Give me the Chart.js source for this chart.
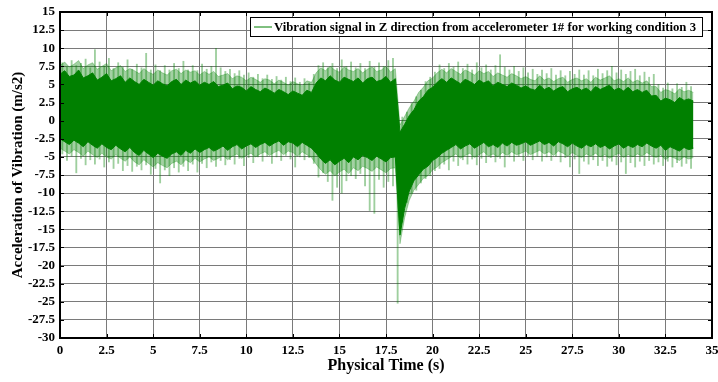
<!DOCTYPE html>
<html lang="en">
<head>
  <meta charset="UTF-8">
  <title>Vibration signal, Z direction</title>
  <script src="https://cdn.jsdelivr.net/npm/chart.js"></script>
  <style>
    html, body { margin: 0; padding: 0; background: #fff; }
    #wrap { width: 718px; height: 382px; }
  </style>
</head>
<body>
  <div id="wrap"><canvas id="chart" width="718" height="382"></canvas></div>
  <script>
    // dense dark band of the signal, read every 0.25 s (upper / lower edge, m/s2)
    const coreHi = [
      6.4, 6.9, 6.1, 6.3, 7.0, 5.9, 6.2, 6.6, 5.6, 6.0, 6.5, 5.5, 5.8, 6.2, 5.3, 5.9,
      5.4, 5.0, 5.7, 5.3, 4.9, 5.5, 5.1, 4.8, 5.4, 5.7, 5.0, 5.6, 5.2, 5.5, 4.9, 5.3,
      5.0, 5.4, 4.7, 4.9, 5.2, 4.4, 4.8, 4.6, 4.1, 4.7, 4.3, 4.0, 4.5, 4.2, 3.8, 4.3,
      4.0, 3.6, 4.1, 3.8, 3.5, 4.2, 3.9,
      5.2, 5.9, 5.5, 6.2, 5.6, 5.3, 6.0, 5.7, 5.4, 5.9, 5.2, 5.8, 6.0, 5.4, 5.6, 6.1, 5.3, 5.8,
      -1.6, -0.5, 0.7, 1.5, 2.7, 3.3, 4.2, 4.6, 5.3, 5.8,
      5.3, 5.9, 5.5, 5.1, 5.7, 5.4, 5.0, 5.6, 5.2, 5.5, 4.8, 5.3, 5.0, 4.7, 5.2, 4.9, 4.5,
      4.8, 4.4, 4.2, 4.9, 4.3, 4.6, 4.1, 4.5, 4.7, 4.0, 4.4, 4.6, 4.2, 4.5, 4.0, 4.7,
      4.3, 4.6, 4.9, 4.2, 4.5, 4.1, 4.6, 4.0, 4.3, 3.9, 4.2, 3.4,
      3.5, 2.7, 3.1, 2.9, 2.5, 3.2, 2.8, 3.0, 2.7
    ];
    const coreLo = [
      -2.5, -2.9, -3.3, -2.7, -3.1, -3.6, -2.9, -3.4, -3.8, -3.2, -3.7, -4.0, -3.4, -3.9, -4.3, -3.7,
      -4.4, -4.8, -4.1, -4.6, -5.1, -4.5, -4.9, -5.2, -4.6, -4.3, -4.8, -4.1, -4.5, -3.9, -4.4, -4.0,
      -3.7, -4.2, -3.9, -3.5, -4.1, -3.6, -3.3, -3.9, -3.5, -3.2, -3.7, -3.3, -3.0, -3.5, -3.1, -2.8,
      -3.4, -2.9, -3.1, -3.6, -3.0, -3.4, -3.8,
      -4.5, -5.3, -5.9, -5.4, -6.1, -5.6, -5.2, -5.8, -5.0, -5.4, -4.8, -5.1, -5.5, -4.9, -5.3, -5.7, -5.1, -5.0,
      -15.8, -12.1, -9.7, -8.3, -7.5, -6.7, -6.3, -5.5, -5.1, -4.5,
      -4.1, -3.7, -3.3, -3.9, -3.5, -3.2, -3.8, -3.4, -3.0, -3.6, -3.3, -3.7, -3.1, -3.5, -3.0, -3.4, -3.2,
      -2.9, -3.4, -3.1, -2.8, -3.3, -3.0, -3.5, -2.9, -3.2, -3.6, -3.1, -3.5, -3.8, -3.3, -3.6, -3.2,
      -3.7, -3.4, -3.9, -3.5, -3.2, -3.8, -3.4, -3.7, -3.3, -3.6, -3.1, -3.5,
      -3.8, -3.4, -4.1, -3.6, -3.9, -4.2, -3.7, -4.0, -3.8
    ];

    // lighter halo around the band, same 0.25 s grid
    const fringeHi = [
      7.6, 8.1, 7.4, 7.8, 8.3, 7.2, 7.7, 8.0, 7.1, 7.5, 7.9, 6.9, 7.3, 7.6, 6.8, 7.2,
      6.9, 6.5, 7.2, 6.7, 6.4, 7.0, 6.6, 6.3, 6.9, 7.1, 6.5, 7.0, 6.7, 6.9, 6.3, 6.8,
      6.4, 6.8, 6.1, 6.3, 6.5, 5.8, 6.2, 6.0, 5.5, 6.0, 5.7, 5.3, 5.8, 5.6, 5.1, 5.6,
      5.3, 4.9, 5.4, 5.1, 4.8, 5.5, 5.3,
      6.6, 7.3, 6.9, 7.5, 7.0, 6.7, 7.4, 7.0, 6.8, 7.2, 6.6, 7.1, 7.4, 6.8, 7.0, 7.5, 6.7, 7.2,
      -0.6, 0.6, 1.8, 2.7, 3.9, 4.6, 5.5, 5.9, 6.6, 7.1,
      6.6, 7.2, 6.8, 6.4, 7.0, 6.7, 6.3, 6.9, 6.5, 6.8, 6.1, 6.6, 6.3, 6.0, 6.5, 6.2, 5.8,
      6.1, 5.7, 5.5, 6.2, 5.6, 5.9, 5.4, 5.8, 6.0, 5.3, 5.7, 5.9, 5.5, 5.8, 5.3, 6.0,
      5.6, 5.9, 6.2, 5.5, 5.8, 5.4, 5.9, 5.3, 5.6, 5.2, 5.5, 4.7,
      4.7, 3.9, 4.3, 4.1, 3.7, 4.4, 4.0, 4.2, 3.9
    ];
    const fringeLo = [
      -3.8, -4.2, -4.6, -4.0, -4.4, -4.9, -4.2, -4.7, -5.1, -4.5, -5.0, -5.3, -4.7, -5.2, -5.6, -5.0,
      -5.7, -6.1, -5.4, -5.9, -6.4, -5.8, -6.2, -6.5, -5.9, -5.6, -6.1, -5.4, -5.8, -5.2, -5.7, -5.3,
      -5.0, -5.5, -5.2, -4.8, -5.4, -4.9, -4.6, -5.2, -4.8, -4.5, -5.0, -4.6, -4.3, -4.8, -4.4, -4.1,
      -4.7, -4.2, -4.4, -4.9, -4.3, -4.7, -5.1,
      -6.0, -6.8, -7.4, -6.9, -7.6, -7.1, -6.7, -7.3, -6.5, -6.9, -6.3, -6.6, -7.0, -6.4, -6.8, -7.2, -6.6, -6.5,
      -17.0, -13.4, -11.0, -9.6, -8.8, -8.0, -7.6, -6.8, -6.4, -5.8,
      -5.4, -5.0, -4.6, -5.2, -4.8, -4.5, -5.1, -4.7, -4.3, -4.9, -4.6, -5.0, -4.4, -4.8, -4.3, -4.7, -4.5,
      -4.2, -4.7, -4.4, -4.1, -4.6, -4.3, -4.8, -4.2, -4.5, -4.9, -4.4, -4.8, -5.1, -4.6, -4.9, -4.5,
      -5.0, -4.7, -5.2, -4.8, -4.5, -5.1, -4.7, -5.0, -4.6, -4.9, -4.4, -4.8,
      -5.1, -4.7, -5.4, -4.9, -5.2, -5.5, -5.0, -5.3, -5.1
    ];

    // single peaks sticking out of the band, read every 0.25 s starting at 0.125 s
    const spikeHi = [
      8.0, 7.4, 8.3, 7.6, 7.9, 8.5, 7.3, 9.8, 8.1, 7.5, 8.6, 7.2, 8.0, 7.4, 8.4, 7.1,
      7.8, 7.3, 9.3, 7.0, 7.7, 6.9, 7.6, 7.0, 7.9, 7.2, 8.2, 7.0, 7.6, 6.9, 7.8, 7.1,
      7.5, 10.0, 7.3, 6.8, 7.1, 6.5, 6.9, 6.3, 6.6, 6.0, 6.4, 5.8, 6.3, 5.7, 6.1, 5.6,
      6.0, 5.4, 5.9, 5.3, 5.8, 5.2, 6.4, 7.6, 8.0, 7.3, 7.9, 7.2, 8.4, 7.5, 8.1, 7.3,
      7.9, 7.2, 8.2, 7.4, 8.0, 7.5, 8.3, 8.6, -1.0, 0.5, 1.2, 2.4, 3.3, 4.2, 5.4, 6.0,
      6.7, 7.7, 7.2, 7.9, 7.4, 8.1, 7.2, 7.8, 7.0, 8.0, 7.3, 7.7, 7.0, 7.6, 9.1, 7.4,
      7.0, 7.5, 6.8, 7.3, 6.6, 7.1, 6.4, 7.0, 6.5, 7.2, 6.3, 6.9, 6.2, 6.8, 6.4, 7.0,
      6.3, 6.9, 6.2, 7.1, 6.5, 6.9, 7.5, 6.6, 7.0, 6.4, 6.8, 7.1, 6.2, 6.7, 6.0, 6.4,
      5.0, 4.5, 5.2, 4.4, 5.1, 4.6, 5.3, 4.7
    ];
    const spikeLo = [
      -4.6, -5.5, -4.9, -7.2, -5.2, -6.1, -5.4, -6.0, -5.3, -6.4, -5.7, -6.6, -5.9, -6.9, -6.2, -7.0,
      -6.3, -6.8, -6.1, -7.4, -6.6, -8.6, -6.8, -7.6, -6.5, -7.1, -6.3, -6.9, -6.0, -7.1, -5.9, -6.5,
      -5.7, -6.3, -5.5, -6.1, -5.4, -6.0, -5.2, -6.2, -5.1, -5.8, -5.0, -5.6, -4.9, -5.9, -5.0, -5.5,
      -4.8, -5.3, -6.4, -5.0, -5.4, -5.1, -5.9, -7.8, -7.2, -8.4, -11.0, -9.2, -10.0, -8.3, -7.6, -8.0,
      -7.3, -9.0, -12.4, -12.8, -8.1, -9.2, -8.4, -9.0, -25.2, -14.0, -11.3, -10.0, -9.6, -8.6, -8.0, -7.6,
      -6.9, -6.6, -6.0, -6.8, -5.6, -6.2, -5.4, -6.0, -5.3, -6.1, -5.2, -5.8, -5.1, -5.7, -5.2, -6.4,
      -5.0, -5.6, -4.9, -5.5, -4.8, -5.4, -4.9, -5.6, -5.0, -5.5, -4.9, -5.7, -5.1, -6.4, -5.3, -7.3,
      -5.6, -6.0, -5.4, -6.2, -5.5, -6.3, -5.6, -6.1, -5.7, -7.3, -5.8, -6.4, -5.6, -6.2, -5.5, -6.0,
      -5.7, -6.2, -5.6, -6.4, -5.8, -6.3, -5.9, -6.6
    ];

    const xTickMin = 0, xTickMax = 35, xStep = 2.5;
    const yTickMin = -30, yTickMax = 15, yStep = 2.5;
    const legendText = 'Vibration signal in Z direction from accelerometer 1# for working condition 3';

    const bandTimes = coreHi.map((_, i) => i * 0.25);
    const spikeTimes = spikeHi.map((_, i) => 0.125 + i * 0.25);

    const green = '#008000';
    const pale = 'rgba(0,128,0,0.36)';
    const font = 'Liberation Serif';

    const line = (vals, extra) => Object.assign({
      data: bandTimes.map((t, i) => ({ x: t, y: vals[i] })),
      borderWidth: 1,
      pointRadius: 0,
      fill: false
    }, extra);

    // box, inward tick marks and the boxed legend (MATLAB look)
    const frame = {
      id: 'frame',
      afterDraw(chart) {
        const { ctx, chartArea: a, scales } = chart;
        ctx.save();
        ctx.strokeStyle = '#000';
        ctx.lineWidth = 1;
        const tk = 4;
        ctx.beginPath();
        scales.x.ticks.forEach(t => {
          const px = Math.round(scales.x.getPixelForValue(t.value)) + 0.5;
          ctx.moveTo(px, a.bottom); ctx.lineTo(px, a.bottom - tk);
          ctx.moveTo(px, a.top); ctx.lineTo(px, a.top + tk);
        });
        scales.y.ticks.forEach(t => {
          const py = Math.round(scales.y.getPixelForValue(t.value)) + 0.5;
          ctx.moveTo(a.left, py); ctx.lineTo(a.left + tk, py);
          ctx.moveTo(a.right, py); ctx.lineTo(a.right - tk, py);
        });
        ctx.stroke();
        ctx.lineWidth = 2;
        ctx.strokeRect(a.left, a.top, a.right - a.left, a.bottom - a.top);

        // legend
        ctx.font = 'bold 12.75px ' + font;
        const tw = ctx.measureText(legendText).width;
        const h = 19;
        const w = tw + 30;
        const bx = Math.round(a.right - 10 - w);
        const by = a.top + 5;
        ctx.fillStyle = '#fff';
        ctx.fillRect(bx, by, w, h);
        ctx.lineWidth = 1;
        ctx.strokeStyle = '#000';
        ctx.strokeRect(bx + 0.5, by + 0.5, w, h);
        ctx.strokeStyle = green;
        ctx.beginPath();
        ctx.moveTo(bx + 4, by + h / 2 + 0.5);
        ctx.lineTo(bx + 22, by + h / 2 + 0.5);
        ctx.stroke();
        ctx.fillStyle = '#000';
        ctx.textBaseline = 'middle';
        ctx.fillText(legendText, bx + 24, by + h / 2 + 1);
        ctx.restore();
      }
    };

    new Chart(document.getElementById('chart'), {
      type: 'line',
      data: {
        datasets: [
          line(coreHi, { label: legendText, borderColor: green, backgroundColor: green, fill: '+1' }),
          line(coreLo, { label: 'band low', borderColor: green }),
          line(fringeHi, { label: 'halo high', borderColor: pale, borderWidth: 0.8, backgroundColor: pale, fill: '+1' }),
          line(fringeLo, { label: 'halo low', borderColor: pale, borderWidth: 0.8 }),
          {
            type: 'bar',
            label: 'peaks',
            data: spikeTimes.map((t, i) => ({ x: t, y: [spikeLo[i], spikeHi[i]] })),
            backgroundColor: 'rgba(0,128,0,0.38)',
            barThickness: 1.2,
            grouped: false
          }
        ]
      },
      options: {
        responsive: false,
        animation: false,
        events: [],
        layout: { padding: { top: 12, right: 6, left: 0, bottom: 0 } },
        plugins: {
          legend: { display: false },
          tooltip: { enabled: false }
        },
        scales: {
          x: {
            type: 'linear',
            min: xTickMin,
            max: xTickMax,
            offset: false,
            afterFit: s => { s.height = 44; s.paddingLeft = 0; s.paddingRight = 0; },
            grid: { color: '#7a7a7a', borderDash: [1, 2], drawTicks: false, offset: false },
            border: { display: false },
            ticks: {
              stepSize: xStep,
              autoSkip: false,
              maxRotation: 0,
              padding: 5,
              color: '#000',
              font: { family: font, size: 13, weight: 'bold' }
            },
            title: {
              display: true,
              text: 'Physical Time (s)',
              color: '#000',
              padding: { top: 0, bottom: 7 },
              font: { family: font, size: 16, weight: 'bold' }
            }
          },
          y: {
            min: yTickMin,
            max: yTickMax,
            afterFit: s => { s.width = 60; s.paddingTop = 0; s.paddingBottom = 0; },
            grid: { color: '#7a7a7a', borderDash: [1, 2], drawTicks: false },
            border: { display: false },
            ticks: {
              stepSize: yStep,
              autoSkip: false,
              padding: 5,
              color: '#000',
              font: { family: font, size: 13, weight: 'bold' }
            },
            title: {
              display: true,
              text: 'Acceleration of Vibration (m/s2)',
              color: '#000',
              padding: { top: 9, bottom: 0 },
              font: { family: font, size: 15, weight: 'bold' }
            }
          }
        }
      },
      plugins: [frame]
    });
  </script>
</body>
</html>
